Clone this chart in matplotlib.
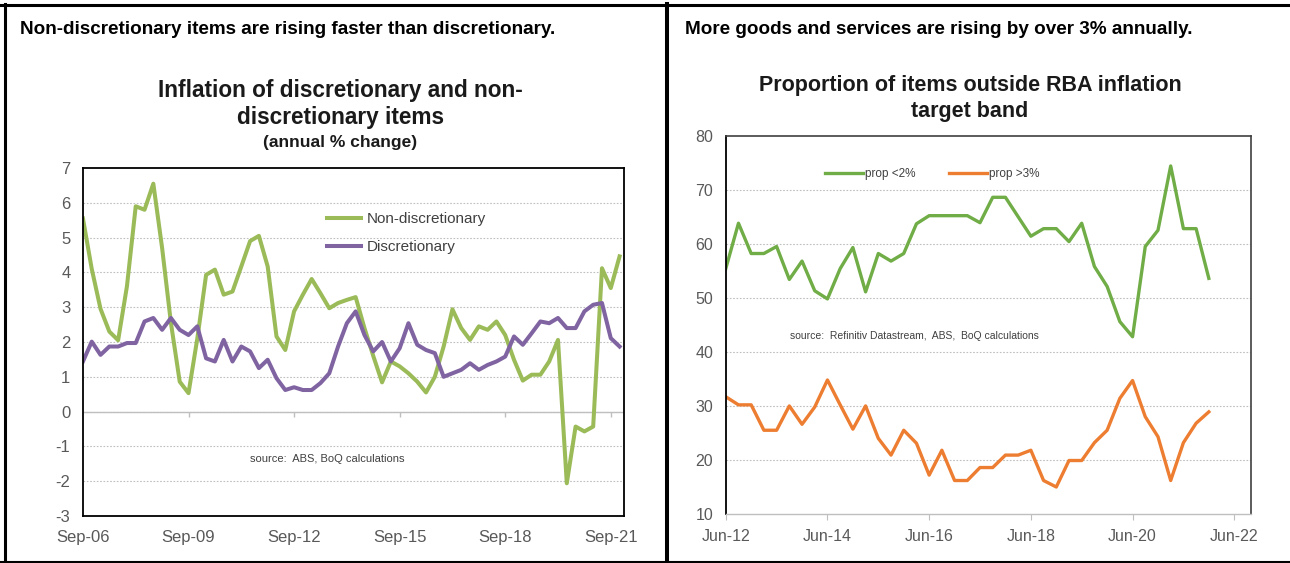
import numpy as np
import matplotlib
matplotlib.use("Agg")
import matplotlib.pyplot as plt
from matplotlib.lines import Line2D

plt.rcParams['font.family'] = ['Liberation Sans', 'DejaVu Sans']
plt.rcParams['axes.unicode_minus'] = False

# left chart: quarterly, Sep-06 .. Dec-21 (annual % change)
non_discretionary = [5.55, 4.1, 2.95, 2.3, 2.05, 3.6, 5.9, 5.8, 6.55, 4.7, 2.55, 0.86, 0.53,
                     2.1, 3.93, 4.08, 3.36, 3.45, 4.17, 4.9, 5.05, 4.17, 2.16, 1.77, 2.88,
                     3.36, 3.81, 3.4, 2.97, 3.12, 3.21, 3.29, 2.4, 1.6, 0.84, 1.44, 1.3,
                     1.1, 0.86, 0.55, 1.0, 1.87, 2.94, 2.4, 2.06, 2.45, 2.35, 2.59, 2.2,
                     1.49, 0.89, 1.06, 1.06, 1.44, 2.06, -2.06, -0.43, -0.57, -0.43, 4.12,
                     3.55, 4.46]
discretionary = [1.44, 2.01, 1.63, 1.87, 1.87, 1.97, 1.97, 2.59, 2.69, 2.35, 2.69, 2.35, 2.2,
                 2.45, 1.53, 1.44, 2.06, 1.44, 1.87, 1.73, 1.25, 1.49, 0.96, 0.62, 0.7,
                 0.62, 0.62, 0.82, 1.1, 1.87, 2.54, 2.88, 2.2, 1.73, 2.0, 1.44, 1.82,
                 2.54, 1.92, 1.77, 1.68, 1.0, 1.1, 1.2, 1.39, 1.2, 1.34, 1.44, 1.58,
                 2.16, 1.92, 2.25, 2.59, 2.54, 2.69, 2.4, 2.4, 2.88, 3.07, 3.12, 2.11,
                 1.87]
left_tick_pos = [0, 12, 24, 36, 48, 60]
left_tick_labels = ['Sep-06', 'Sep-09', 'Sep-12', 'Sep-15', 'Sep-18', 'Sep-21']

# right chart: quarterly, Jun-12 .. Dec-21 (% of items)
prop_below_2 = [55.4, 63.8, 58.2, 58.2, 59.5, 53.4, 56.8, 51.3, 49.8, 55.4, 59.3, 51.1, 58.2,
                56.8, 58.2, 63.7, 65.2, 65.2, 65.2, 65.2, 63.9, 68.6, 68.6, 65.0, 61.4,
                62.8, 62.8, 60.4, 63.8, 55.8, 52.1, 45.6, 42.8, 59.5, 62.5, 74.4, 62.8,
                62.8, 53.6]
prop_above_3 = [31.7, 30.2, 30.2, 25.5, 25.5, 30.0, 26.6, 29.8, 34.8, 30.2, 25.7, 30.0, 24.0,
                20.9, 25.5, 23.1, 17.2, 21.8, 16.2, 16.2, 18.6, 18.6, 20.9, 20.9, 21.8,
                16.2, 15.0, 19.9, 19.9, 23.2, 25.5, 31.4, 34.7, 28.0, 24.3, 16.2, 23.2,
                26.8, 28.9]
right_tick_pos = [0, 8, 16, 24, 32, 40]
right_tick_labels = ['Jun-12', 'Jun-14', 'Jun-16', 'Jun-18', 'Jun-20', 'Jun-22']

TICK_GREY = '#595959'
TEXT_GREY = '#404040'
GRID_GREY = '#BFBFBF'

fig = plt.figure(figsize=(12.9, 5.63), dpi=100)

# ---------- left panel ----------
ax1 = fig.add_axes([0.0643, 0.0835, 0.4194, 0.6181])
ax1.plot(np.arange(len(non_discretionary)), non_discretionary, color='#9BBB59', lw=2.9,
         label='Non-discretionary', solid_joinstyle='round')
ax1.plot(np.arange(len(discretionary)), discretionary, color='#8064A2', lw=2.9,
         label='Discretionary', solid_joinstyle='round')
ax1.set_xlim(0, 61.5)
ax1.set_ylim(-3, 7)
ax1.set_yticks(range(-3, 8))
ax1.set_xticks(left_tick_pos)
ax1.set_xticklabels(left_tick_labels)
ax1.tick_params(axis='both', length=0, labelsize=12, labelcolor=TICK_GREY)
ax1.tick_params(axis='x', pad=10)
ax1.tick_params(axis='y', pad=9)
for y in range(-2, 7):
    ax1.axhline(y, color=GRID_GREY, lw=0.8, ls=(0, (1.5, 1.5)), zorder=0)
ax1.axhline(0, color=GRID_GREY, lw=1.0, zorder=0)
ax1.vlines(left_tick_pos[1:], -0.15, 0, color=GRID_GREY, lw=1.0, zorder=0)
for s in ax1.spines.values():
    s.set_color('black')
    s.set_linewidth(1.3)
leg1 = ax1.legend(loc='upper left', bbox_to_anchor=(0.451, 0.873), frameon=False,
                  fontsize=11, handlelength=2.2, handletextpad=0.4, labelspacing=0.9,
                  borderpad=0, borderaxespad=0)
for t in leg1.get_texts():
    t.set_color(TEXT_GREY)
ax1.text(0.309, 0.164, 'source:  ABS, BoQ calculations', transform=ax1.transAxes,
         fontsize=8, color=TEXT_GREY, va='center', ha='left')

fig.text(20 / 1290, 1 - 30 / 563, 'Non-discretionary items are rising faster than discretionary.',
         fontsize=13.6, fontweight='bold', va='center', ha='left')
fig.text(340 / 1290, 1 - 90 / 563, 'Inflation of discretionary and non-',
         fontsize=16.3, fontweight='bold', va='center', ha='center', color='#1a1a1a')
fig.text(340 / 1290, 1 - 117 / 563, 'discretionary items',
         fontsize=16.3, fontweight='bold', va='center', ha='center', color='#1a1a1a')
fig.text(340 / 1290, 1 - 143 / 563, '(annual % change)',
         fontsize=12.5, fontweight='bold', va='center', ha='center', color='#1a1a1a')

# ---------- right panel ----------
ax2 = fig.add_axes([0.5626, 0.087, 0.407, 0.672])
ax2.plot(np.arange(len(prop_below_2)), prop_below_2, color='#70AD47', lw=2.4,
         label='prop <2%', solid_joinstyle='round')
ax2.plot(np.arange(len(prop_above_3)), prop_above_3, color='#ED7D31', lw=2.4,
         label='prop >3%', solid_joinstyle='round')
ax2.set_xlim(0, 41.3)
ax2.set_ylim(10, 80)
ax2.set_yticks(range(10, 81, 10))
ax2.set_xticks(right_tick_pos)
ax2.set_xticklabels(right_tick_labels)
ax2.tick_params(axis='both', labelsize=11.5, labelcolor=TICK_GREY)
ax2.tick_params(axis='x', length=4, color=GRID_GREY, pad=7)
ax2.tick_params(axis='y', length=0, pad=9)
for y in range(20, 80, 10):
    ax2.axhline(y, color=GRID_GREY, lw=0.8, ls=(0, (1.5, 1.5)), zorder=0)
ax2.spines['left'].set_color('black')
ax2.spines['left'].set_linewidth(1.3)
ax2.spines['bottom'].set_color(GRID_GREY)
ax2.spines['bottom'].set_linewidth(1.0)
for side in ('top', 'right'):
    ax2.spines[side].set_color('#404040')
    ax2.spines[side].set_linewidth(1.2)
leg2 = ax2.legend(loc='center left', bbox_to_anchor=(0.189, 0.899), frameon=False, ncol=2,
                  fontsize=8.5, handlelength=3.2, handletextpad=0.2, columnspacing=2.85,
                  borderpad=0, borderaxespad=0)
for t in leg2.get_texts():
    t.set_color(TEXT_GREY)
ax2.text(0.1225, 0.4705, 'source:  Refinitiv Datastream,  ABS,  BoQ calculations',
         transform=ax2.transAxes, fontsize=7.5, color=TEXT_GREY, va='center', ha='left')

fig.text(685 / 1290, 1 - 30 / 563, 'More goods and services are rising by over 3% annually.',
         fontsize=13.6, fontweight='bold', va='center', ha='left')
fig.text(970 / 1290, 1 - 85 / 563, 'Proportion of items outside RBA inflation',
         fontsize=15.5, fontweight='bold', va='center', ha='center', color='#1a1a1a')
fig.text(970 / 1290, 1 - 112 / 563, 'target band',
         fontsize=15.5, fontweight='bold', va='center', ha='center', color='#1a1a1a')

# ---------- panel frame ----------
fig.add_artist(Line2D([0, 1], [1 - 4.7 / 563, 1 - 4.7 / 563], color='black', lw=2.2))
fig.add_artist(Line2D([0, 1], [1 - 561.5 / 563, 1 - 561.5 / 563], color='black', lw=1.5))
fig.add_artist(Line2D([5 / 1290, 5 / 1290], [1 - 561.5 / 563, 1 - 4 / 563], color='black', lw=2.2))
fig.add_artist(Line2D([667 / 1290, 667 / 1290], [0, 1 - 4 / 563], color='black', lw=2.9))

fig.savefig('out.png', dpi=100)
